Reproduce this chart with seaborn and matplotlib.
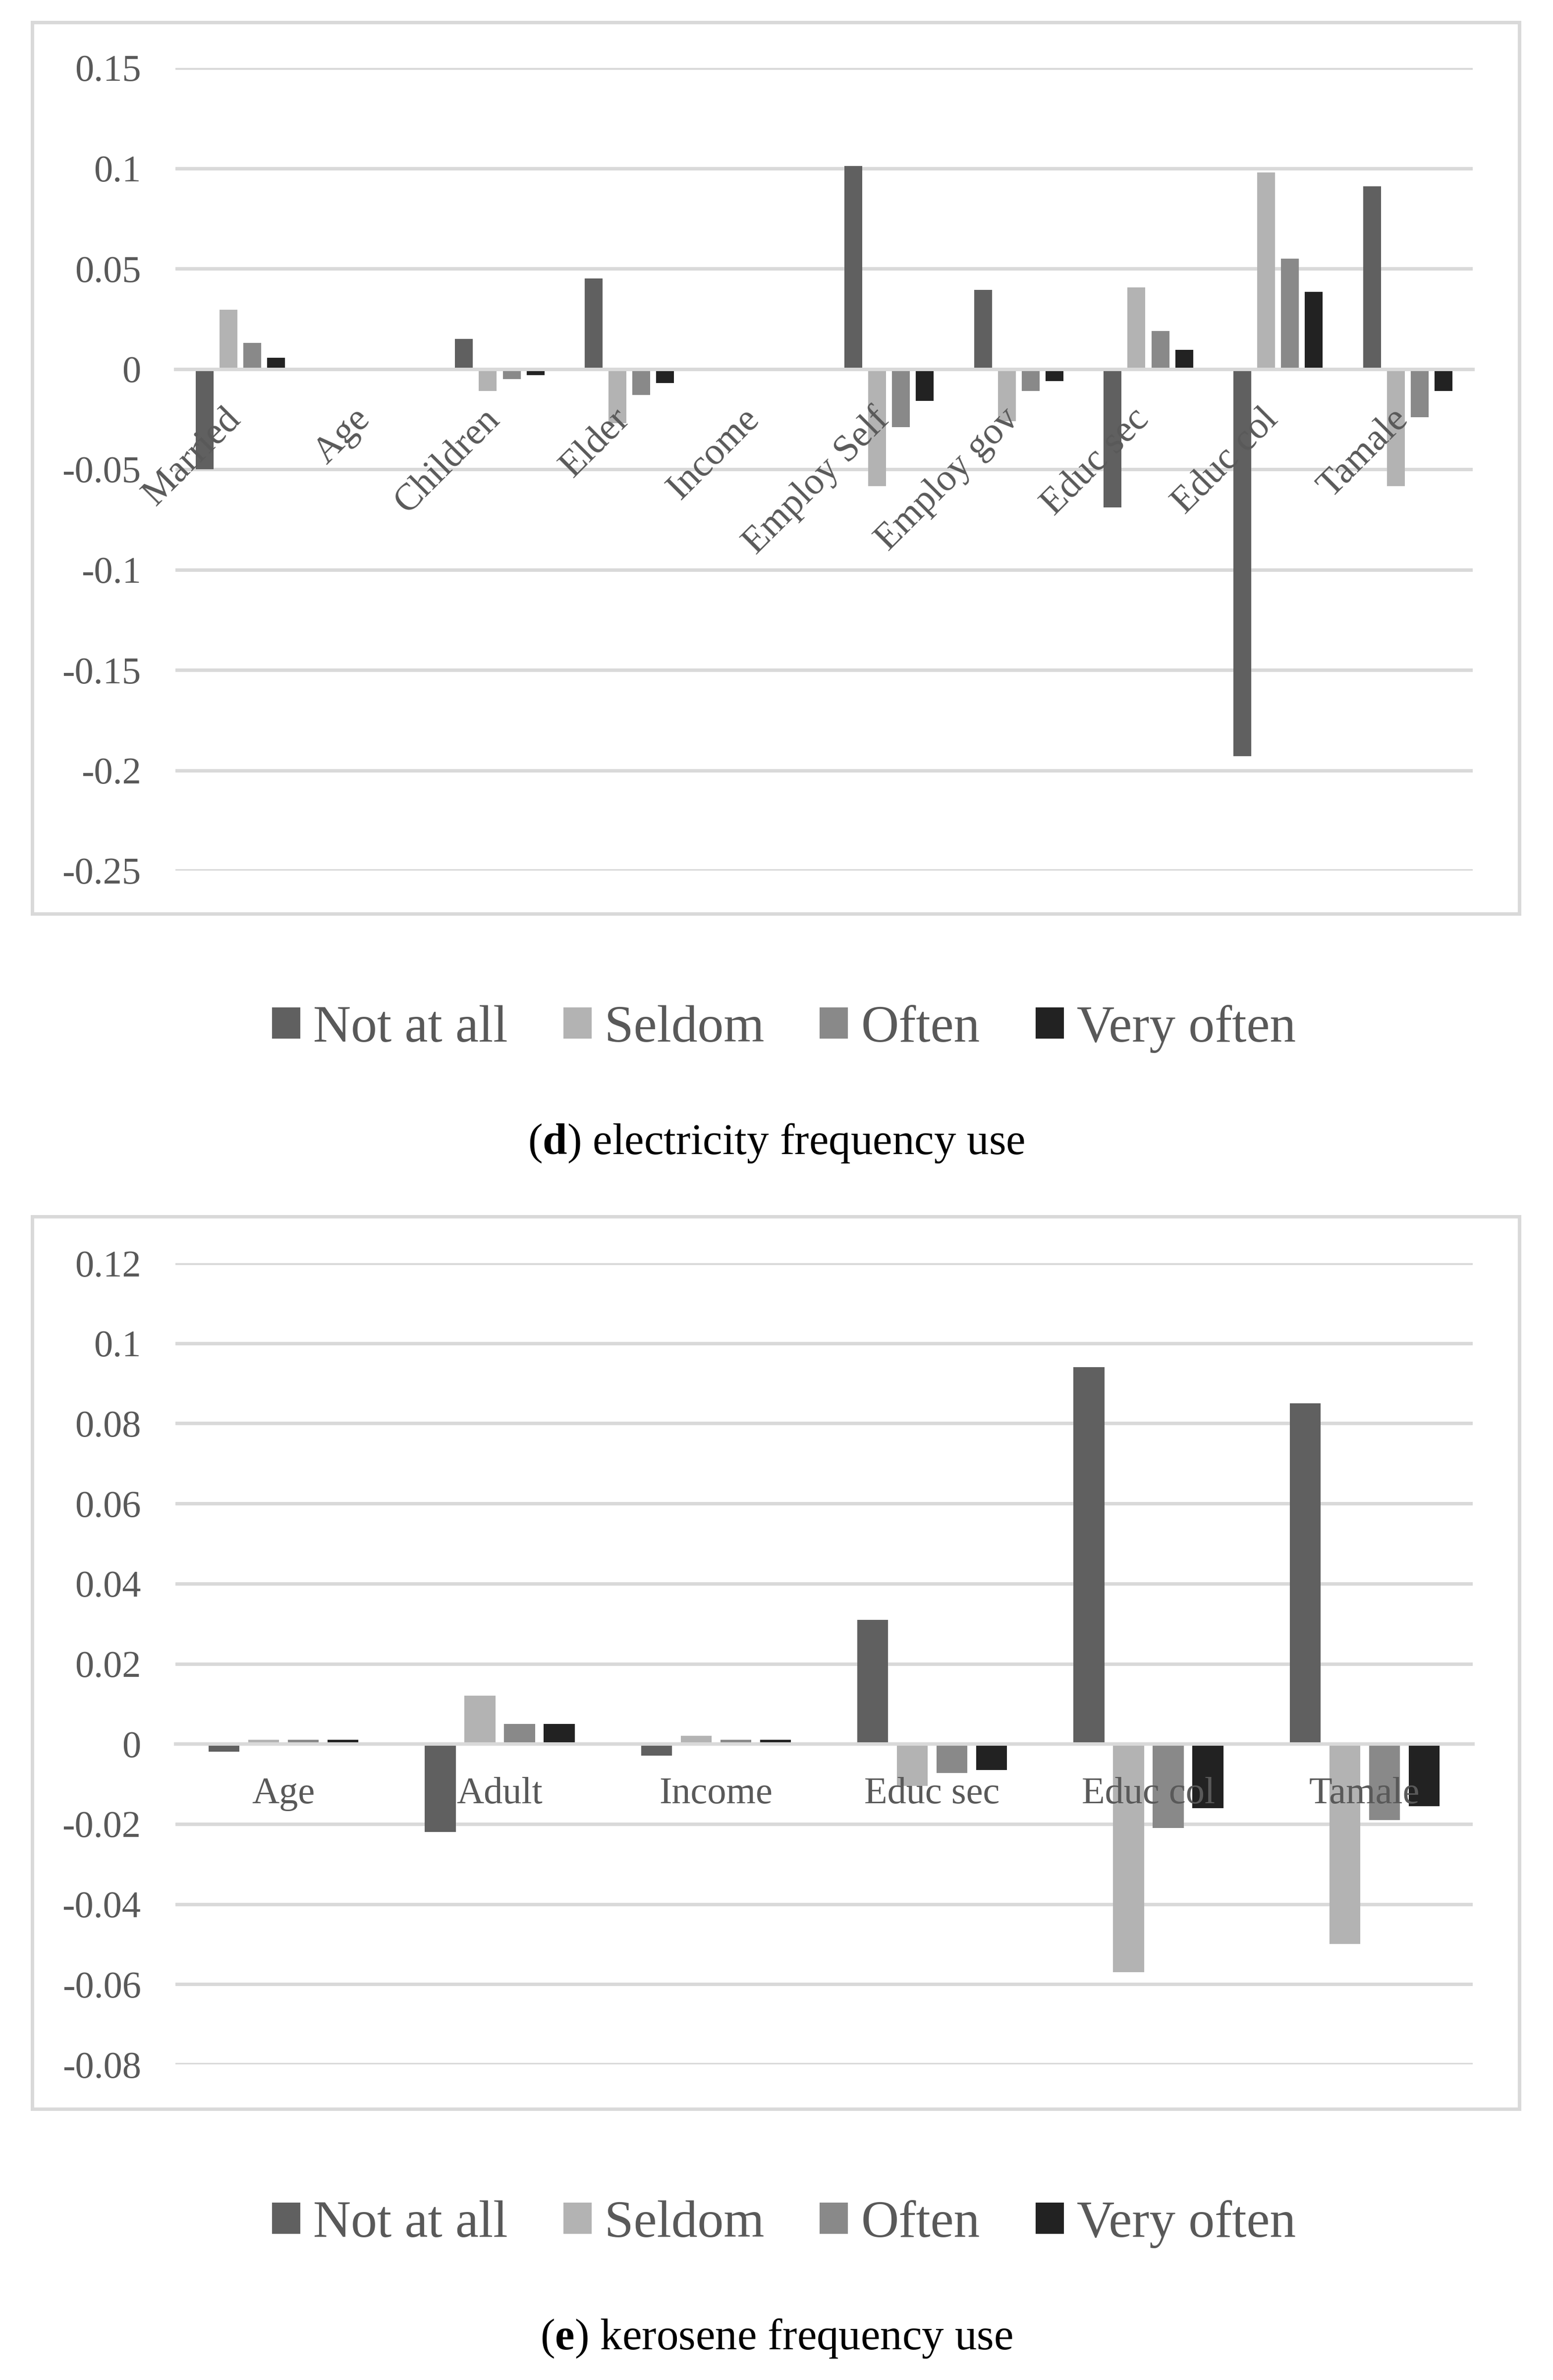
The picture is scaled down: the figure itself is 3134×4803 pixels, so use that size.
import matplotlib
matplotlib.use("Agg")
import matplotlib.pyplot as plt
import seaborn as sns
import pandas as pd
from matplotlib.patches import Rectangle
from matplotlib.transforms import ScaledTranslation

# ---------------- data ----------------
series = ["Not at all", "Seldom", "Often", "Very often"]
colors = ["#606060", "#b3b3b3", "#898989", "#222222"]

elec_categories = ["Married", "Age", "Children", "Elder", "Income",
                   "Employ Self", "Employ gov", "Educ sec", "Educ col", "Tamale"]
elec_not_at_all = [-0.050, 0.0, 0.015, 0.045, 0.0, 0.101, 0.0395, -0.069, -0.193, 0.091]
elec_seldom = [0.0295, 0.0, -0.011, -0.027, 0.0, -0.0585, -0.026, 0.0405, 0.098, -0.0585]
elec_often = [0.013, 0.0, -0.005, -0.013, 0.0, -0.029, -0.011, 0.019, 0.055, -0.024]
elec_very_often = [0.0055, 0.0, -0.003, -0.007, 0.0, -0.016, -0.006, 0.0095, 0.0385, -0.011]
elec_yticks = [0.15, 0.1, 0.05, 0, -0.05, -0.1, -0.15, -0.2, -0.25]

kero_categories = ["Age", "Adult", "Income", "Educ sec", "Educ col", "Tamale"]
kero_not_at_all = [-0.002, -0.022, -0.003, 0.031, 0.094, 0.085]
kero_seldom = [0.001, 0.012, 0.002, -0.0105, -0.057, -0.050]
kero_often = [0.001, 0.005, 0.001, -0.0073, -0.021, -0.019]
kero_very_often = [0.001, 0.005, 0.001, -0.0065, -0.016, -0.0155]
kero_yticks = [0.12, 0.1, 0.08, 0.06, 0.04, 0.02, 0, -0.02, -0.04, -0.06, -0.08]

captions = [("d", "electricity frequency use"), ("e", "kerosene frequency use")]

# ---------------- style ----------------
sns.set_style("white")
plt.rcParams["font.family"] = ["Liberation Serif", "DejaVu Serif"]
plt.rcParams["axes.unicode_minus"] = False
plt.rcParams["mathtext.fontset"] = "custom"
plt.rcParams["mathtext.rm"] = "Liberation Serif"
plt.rcParams["mathtext.bf"] = "Liberation Serif:bold"

W, H = 3134, 4803
fig = plt.figure(figsize=(W / 100, H / 100), dpi=100)
fig.patch.set_facecolor("white")

GRID = "#d9d9d9"
TXT = "#595959"


def long_df(categories, cols):
    rows = []
    for s, vals in zip(series, cols):
        for c, v in zip(categories, vals):
            rows.append({"category": c, "series": s, "value": v})
    return pd.DataFrame(rows)


def panel(rect, frame, categories, cols, yticks, rotate, gap, legend_y, cap_y, cap):
    # outer frame
    fx0, fy0, fx1, fy1 = frame
    fig.patches.append(Rectangle((fx0 / W, 1 - fy1 / H), (fx1 - fx0) / W, (fy1 - fy0) / H,
                                 transform=fig.transFigure, fill=False,
                                 edgecolor=GRID, linewidth=5))
    ax = fig.add_axes(rect)
    df = long_df(categories, cols)
    sns.barplot(data=df, x="category", y="value", hue="series",
                order=categories, hue_order=series, palette=colors,
                width=0.7334, gap=gap, errorbar=None, linewidth=0, ax=ax)
    handles, labels = ax.get_legend_handles_labels()
    if ax.get_legend() is not None:
        ax.get_legend().remove()

    ax.set_ylim(min(yticks), max(yticks))
    ax.set_yticks(yticks)
    ax.set_yticklabels([f"{v:g}" for v in yticks])
    ax.set_xlim(-0.5, len(categories) - 0.5)
    ax.set_xlabel("")
    ax.set_ylabel("")
    ax.set_axisbelow(True)
    ax.yaxis.grid(True, color=GRID, linewidth=5)
    ax.xaxis.grid(False)
    ax.xaxis.set_zorder(3)  # category labels drawn over the bars
    for s in ["top", "right", "left"]:
        ax.spines[s].set_visible(False)
    ax.spines["bottom"].set_position(("data", 0))
    ax.spines["bottom"].set_color(GRID)
    ax.spines["bottom"].set_linewidth(5)
    ax.spines["bottom"].set_zorder(2.5)
    ax.tick_params(axis="both", length=0, labelsize=55, labelcolor=TXT)
    ax.tick_params(axis="y", pad=50)
    ax.tick_params(axis="x", pad=48)
    if rotate:
        off = ScaledTranslation(0.14, 0, fig.dpi_scale_trans)
        for lbl in ax.get_xticklabels():
            lbl.set_rotation(45)
            lbl.set_ha("right")
            lbl.set_va("top")
            lbl.set_transform(lbl.get_transform() + off)

    fig.legend(handles, labels, loc="center", bbox_to_anchor=(0.5048, legend_y),
               ncol=4, frameon=False, fontsize=76, labelcolor=TXT,
               handlelength=0.54, handleheight=0.54, handletextpad=0.25,
               columnspacing=1.06)
    letter, text = cap
    fig.text(0.5, cap_y, r"($\mathbf{" + letter + r"}$) " + text,
             ha="center", va="baseline", fontsize=64, color="black")
    return ax


panel([354 / W, 1 - 1757 / H, (2972 - 354) / W, (1757 - 137) / H],
      (65, 45, 3066, 1844), elec_categories,
      [elec_not_at_all, elec_seldom, elec_often, elec_very_often],
      elec_yticks, True, 0.25, 1 - 2076 / H, 1 - 2329.5 / H, captions[0])

panel([354 / W, 1 - 4166 / H, (2972 - 354) / W, (4166 - 2549) / H],
      (65, 2455, 3066, 4256), kero_categories,
      [kero_not_at_all, kero_seldom, kero_often, kero_very_often],
      kero_yticks, False, 0.22, 1 - 4488 / H, 1 - 4741 / H, captions[1])

fig.savefig("out.png", dpi=100, facecolor="white")
